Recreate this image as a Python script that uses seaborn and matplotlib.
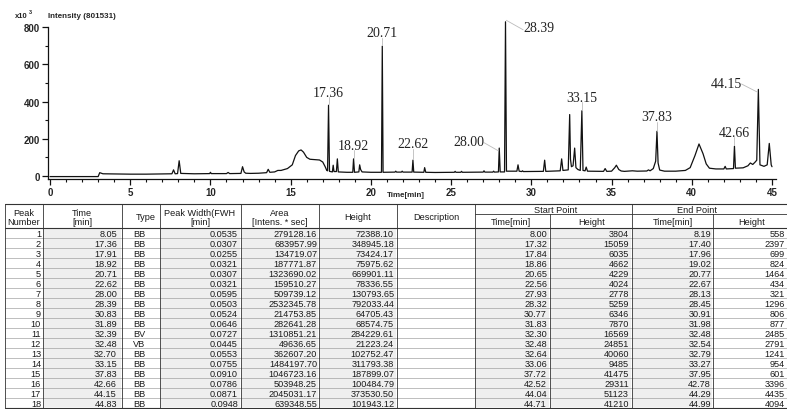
import numpy as np
import pandas as pd
import seaborn as sns
import matplotlib.pyplot as plt
from matplotlib.ticker import MultipleLocator

# chromatogram trace: time [min], intensity [x10^3]
trace_time = [0.0, 3.0, 3.1, 3.3, 4.0, 5.0, 6.0, 7.0, 7.6, 7.7, 7.8, 7.95, 8.05, 8.15, 8.5,
              9.0, 9.95, 10.0, 10.05, 11.0, 11.1, 11.2, 11.9, 12.0, 12.1, 12.2, 12.5, 13.0,
              13.5, 13.6, 13.7, 14.0, 14.2, 14.4, 14.8, 15.1, 15.3, 15.5, 15.65, 15.8, 16.0,
              16.2, 16.5, 16.8, 17.0, 17.15, 17.25, 17.3, 17.36, 17.42, 17.6, 17.65, 17.7,
              17.85, 17.91, 17.97, 18.5, 18.87, 18.92, 18.98, 19.25, 19.3, 19.36, 19.45, 20.0,
              20.66, 20.71, 20.76, 21.5, 21.55, 21.6, 21.9, 21.95, 22.0, 22.57, 22.62, 22.67,
              23.3, 23.35, 23.42, 24.0, 25.2, 25.25, 25.3, 25.6, 25.65, 25.7, 27.0, 27.05, 27.1,
              27.6, 27.65, 27.7, 27.95, 28.0, 28.06, 28.33, 28.39, 28.45, 29.1, 29.17, 29.24,
              29.4, 29.45, 29.5, 30.75, 30.83, 30.9, 31.8, 31.89, 31.97, 32.3, 32.39, 32.44,
              32.5, 32.6, 32.7, 32.78, 32.9, 33.05, 33.15, 33.22, 33.35, 33.42, 33.5, 34.5,
              34.6, 34.7, 35.0, 35.2, 35.3, 35.45, 35.6, 35.8, 36.0, 36.3, 36.6, 37.2, 37.3,
              37.4, 37.6, 37.75, 37.83, 37.9, 38.0, 38.3, 39.0, 39.6, 39.9, 40.2, 40.45, 40.7,
              40.9, 41.1, 41.5, 42.0, 42.08, 42.15, 42.6, 42.66, 42.72, 43.2, 43.5, 43.65, 43.8,
              43.95, 44.05, 44.15, 44.25, 44.5, 44.7, 44.83, 44.95, 45.0]
trace_int = [-3, -3, 18, 12, 11, 10, 10, 11, 12, 33, 12, 13, 82, 14, 13,
             12, 13, 20, 13, 13, 19, 13, 14, 50, 22, 15, 14, 15,
             18, 36, 20, 22, 30, 30, 40, 60, 110, 135, 140, 128, 100,
             90, 88, 86, 75, 50, 30, 28, 380, 25, 22, 58, 24,
             24, 92, 22, 20, 20, 92, 20, 22, 60, 35, 22, 20,
             20, 697, 20, 21, 26, 21, 21, 26, 21, 21, 85, 21,
             20, 45, 20, 19, 20, 25, 20, 20, 25, 20, 21, 28, 21,
             21, 26, 21, 22, 150, 22, 22, 828, 26, 26, 60, 26,
             24, 28, 24, 25, 85, 25, 28, 92, 30, 33, 330, 90,
             50, 55, 150, 45, 35, 30, 350, 30, 28, 48, 26, 25,
             40, 25, 26, 45, 58, 35, 27, 25, 26, 28, 26, 27, 33,
             28, 40, 80, 240, 70, 32, 26, 26, 30, 45, 110, 172, 120,
             65, 42, 38, 38, 52, 38, 40, 160, 42, 44, 55, 70, 62,
             75, 85, 465, 60, 52, 60, 175, 60, 50]

labelled_peaks = ["17.36", "18.92", "20.71", "22.62", "28.00", "28.39", "33.15", "37.83", "42.66", "44.15"]

# peak table
peak_no = list(range(1, 19))
ret_time = [8.05, 17.36, 17.91, 18.92, 20.71, 22.62, 28.00, 28.39, 30.83, 31.89,
            32.39, 32.48, 32.70, 33.15, 37.83, 42.66, 44.15, 44.83]
peak_type = ["BB"] * 10 + ["BV", "VB"] + ["BB"] * 6
peak_width = [0.0535, 0.0307, 0.0255, 0.0321, 0.0307, 0.0321, 0.0595, 0.0503, 0.0524, 0.0646,
              0.0727, 0.0445, 0.0553, 0.0755, 0.0910, 0.0786, 0.0871, 0.0948]
area = [279128.16, 683957.99, 134719.07, 187771.87, 1323690.02, 159510.27, 509739.12,
        2532345.78, 214753.85, 282641.28, 1310851.21, 49636.65, 362607.20, 1484197.70,
        1046723.16, 503948.25, 2045031.17, 639348.55]
height = [72388.10, 348945.18, 73424.17, 75975.62, 669901.11, 78336.55, 130793.65, 792033.44,
          64705.43, 68574.75, 284229.61, 21223.24, 102752.47, 311793.38, 187899.07,
          100484.79, 373530.50, 101943.12]
start_time = [8.00, 17.32, 17.84, 18.86, 20.65, 22.56, 27.93, 28.32, 30.77, 31.83, 32.30,
              32.48, 32.64, 33.06, 37.72, 42.52, 44.04, 44.71]
start_height = [3804, 15059, 6035, 4662, 4229, 4024, 2778, 5259, 6346, 7870, 16569, 24851,
                40060, 9485, 41475, 29311, 51123, 41210]
end_time = [8.19, 17.40, 17.96, 19.02, 20.77, 22.67, 28.13, 28.45, 30.91, 31.98, 32.48,
            32.54, 32.79, 33.27, 37.95, 42.78, 44.29, 44.99]
# right column is cut off at the page edge in the scan, these are the visible digits
end_height = ["558", "2397", "699", "824", "1464", "434", "321", "1296", "806", "877",
              "2485", "2791", "1241", "954", "601", "3396", "4435", "4094"]

sns.set_style("ticks")
plt.rcParams["font.family"] = ["Liberation Sans", "DejaVu Sans"]

W, H = 787, 410
fig = plt.figure(figsize=(W / 100, H / 100), dpi=100)

# ---------------- chromatogram ----------------
px_per_min = 722 / 45
x0 = -2 / px_per_min
x1 = 45 + 4 / px_per_min
ax = fig.add_axes([48 / W, 1 - 180 / H, 728 / W, 152 / H])
df = pd.DataFrame({"time": trace_time, "intensity": trace_int})
sns.lineplot(data=df, x="time", y="intensity", ax=ax, color="#111111", linewidth=0.9,
             estimator=None, sort=False, clip_on=False)
ax.set_xlim(x0, x1)
ax.set_ylim(-16, 800)
ax.set_xlabel("")
ax.set_ylabel("")
sns.despine(ax=ax)
ax.xaxis.set_major_locator(MultipleLocator(5))
ax.xaxis.set_minor_locator(MultipleLocator(1))
ax.yaxis.set_major_locator(MultipleLocator(200))
ax.yaxis.set_minor_locator(MultipleLocator(100))
ax.tick_params(which="major", length=4, width=0.9, labelsize=7, pad=2, color="#111111")
ax.tick_params(which="minor", length=2.5, width=0.8, color="#111111")
for lab in ax.get_xticklabels() + ax.get_yticklabels():
    lab.set_fontweight("bold")
for sp in ax.spines.values():
    sp.set_linewidth(0.9)
    sp.set_color("#111111")

# peak labels: (x offset in min, label centre in x10^3)
label_place = {"17.36": (0, 451), "18.92": (0, 166), "20.71": (0, 768), "22.62": (0, 172),
               "28.00": (-1.9, 184), "28.39": (2.1, 795), "33.15": (0, 424),
               "37.83": (0, 317), "42.66": (0, 236), "44.15": (-2.0, 499)}
for lab in labelled_peaks:
    t = float(lab)
    apex = trace_int[trace_time.index(t)]
    dx, ly = label_place[lab]
    ax.text(t + dx, ly, lab, ha="center", va="center", fontsize=10,
            family=["Liberation Serif", "DejaVu Serif"], color="#222222")
    if dx == 0:
        ax.plot([t, t], [apex + 4, ly - 28], color="#bbbbbb", lw=0.6)
    elif dx < 0:
        ax.plot([t + dx + 0.95, t - 0.05], [ly - 5, apex - 15], color="#bbbbbb", lw=0.6)
    else:
        ax.plot([t + 0.05, t + dx - 1.0], [apex + 8, ly - 10], color="#bbbbbb", lw=0.6,
                clip_on=False)

# ---------------- overlay in pixel coordinates ----------------
ov = fig.add_axes([0, 0, 1, 1])
ov.set_xlim(0, W)
ov.set_ylim(H, 0)
ov.axis("off")
ov.patch.set_alpha(0)

ov.text(15, 17, "x10", fontsize=5.5, fontweight="bold", va="center")
ov.text(29, 13, "3", fontsize=4, fontweight="bold", va="center")
ov.text(48, 17, "Intensity (801531)", fontsize=5.8, fontweight="bold", va="center")
ov.text(387, 196, "Time[min]", fontsize=5.8, fontweight="bold", va="center")

# table layout (pixels)
top, split, head_bot, pitch = 205, 215, 229, 10
bottom = head_bot + pitch * len(peak_no)
col_edges = [5, 43, 122, 160, 241, 319, 397, 475, 550, 632, 713]
fs = 6.6
tc = "#1a1a1a"
lc = "#333333"

# light toner shading behind numbers
for xa, xb in [(43, 122), (160, 241), (241, 319), (319, 397), (475, 550), (550, 632), (632, 713)]:
    ov.fill_between([xa + 1, xb - 1], head_bot + 1, bottom - 1, color="#efefef", lw=0)

ov.plot([col_edges[0], W], [top, top], color=lc, lw=0.8)
ov.plot([475, W], [split, split], color=lc, lw=0.6)
ov.plot([col_edges[0], W], [head_bot, head_bot], color=lc, lw=0.8)
ov.plot([col_edges[0], W], [bottom - 0.5, bottom - 0.5], color=lc, lw=0.8)
for i in range(1, len(peak_no)):
    yy = head_bot + pitch * i
    ov.plot([col_edges[0], W], [yy, yy], color="#9a9a9a", lw=0.45)
for xe in col_edges:
    y_start = split if xe in (550, 713) else top
    ov.plot([xe, xe], [y_start, bottom], color=lc, lw=0.6)

# header text
hdr = [(24, "Peak\nNumber"), (82, "Time\n[min]"), (146, "Type"), (200, "Peak Width(FWH\n[min]"),
       (280, "Area\n[Intens. * sec]"), (358, "Height"), (436, "Description")]
for xc, txt in hdr:
    ov.text(xc, (top + head_bot) / 2 + 1, txt, ha="center", va="center", fontsize=fs,
            linespacing=0.95, color=tc)
ov.text(556, (top + split) / 2 + 0.5, "Start Point", ha="center", va="center", fontsize=fs, color=tc)
ov.text(697, (top + split) / 2 + 0.5, "End Point", ha="center", va="center", fontsize=fs, color=tc)
for xc, txt in [(511, "Time[min]"), (592, "Height"), (673, "Time[min]"), (752, "Height")]:
    ov.text(xc, (split + head_bot) / 2 + 0.5, txt, ha="center", va="center", fontsize=fs, color=tc)

for i in range(len(peak_no)):
    yc = head_bot + pitch * i + pitch / 2 + 0.3
    row = [(41, f"{peak_no[i]}", "right"), (117, f"{ret_time[i]:.2f}", "right"),
           (133, peak_type[i], "left"), (238, f"{peak_width[i]:.4f}", "right"),
           (317, f"{area[i]:.2f}", "right"), (394, f"{height[i]:.2f}", "right"),
           (547, f"{start_time[i]:.2f}", "right"), (629, f"{start_height[i]}", "right"),
           (711, f"{end_time[i]:.2f}", "right"), (785, end_height[i], "right")]
    for xp, txt, ha in row:
        ov.text(xp, yc, txt, ha=ha, va="center", fontsize=fs, color=tc)

fig.savefig("out.png", dpi=100)
